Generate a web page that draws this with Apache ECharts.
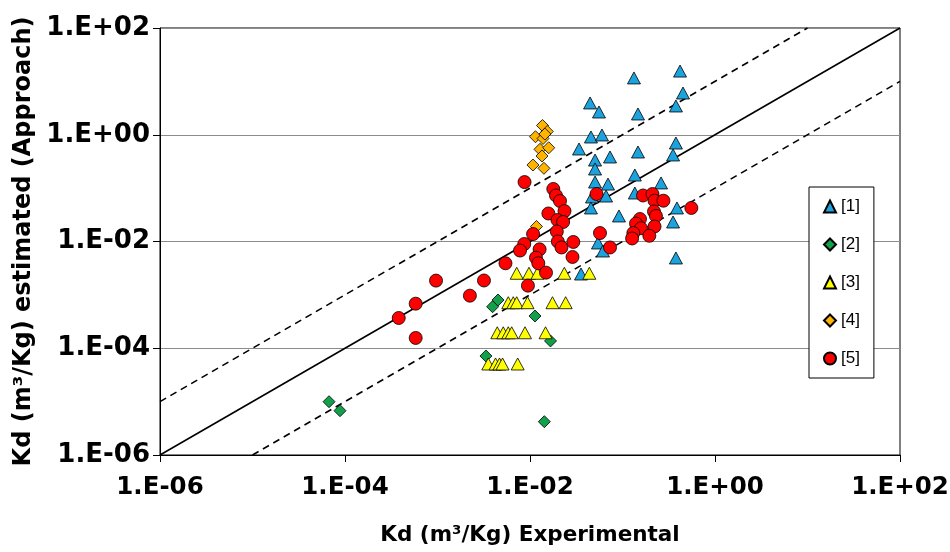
<!DOCTYPE html>
<html><head><meta charset="utf-8">
<script src="https://cdn.jsdelivr.net/npm/echarts@6/dist/echarts.min.js"></script>
<style>html,body{margin:0;padding:0;background:#fff}#c{width:950px;height:552px}</style>
</head><body><div id="c"></div>
<script>
const seriesNames = ['[1]', '[2]', '[3]', '[4]', '[5]'];
const seriesColors = ['#1CA3DE', '#12A04A', '#FFFF00', '#FFB400', '#FF0000'];

// [1] blue triangles
const x1 = [0.133, 0.419, 0.451, 0.378, 0.0446, 0.0557, 0.147, 0.0456, 0.060, 0.0339, 0.378, 0.352, 0.147, 0.0505, 0.0733, 0.0505, 0.136, 0.0505, 0.0697, 0.261, 0.136, 0.0664, 0.0468, 0.0456, 0.0916, 0.388, 0.352, 0.0543, 0.0615, 0.378, 0.0356];
const y1 = [11.6, 15.6, 6.05, 3.46, 3.94, 2.67, 2.45, 0.908, 0.99, 0.541, 0.70, 0.418, 0.475, 0.336, 0.383, 0.228, 0.176, 0.130, 0.119, 0.125, 0.081, 0.0711, 0.0682, 0.0425, 0.0301, 0.0425, 0.0232, 0.00938, 0.00664, 0.00491, 0.00246];
// [2] green diamonds
const x2 = [0.00451, 0.00394, 0.01132, 0.01667, 0.00334, 6.72e-5, 8.83e-5, 0.01429];
const y2 = [0.000802, 0.000600, 0.000402, 0.000137, 7.16e-5, 9.97e-6, 6.76e-6, 4.21e-6];
// [3] yellow triangles
const x3 = [0.00718, 0.00975, 0.01205, 0.0235, 0.0438,
            0.00582, 0.00659, 0.00718, 0.00940, 0.0175, 0.0243,
            0.00443, 0.00514, 0.00582, 0.00634, 0.00883, 0.01473,
            0.00354, 0.00424, 0.00468, 0.00505, 0.00736];
const y3 = [0.00254, 0.00254, 0.00254, 0.00254, 0.00254,
            0.000713, 0.000713, 0.000713, 0.000713, 0.000713, 0.000713,
            0.000195, 0.000195, 0.000195, 0.000195, 0.000195, 0.000195,
            5.07e-5, 5.07e-5, 5.07e-5, 5.07e-5, 5.07e-5];
// [4] orange diamonds
const x4 = [0.01365, 0.01538, 0.01146, 0.01383, 0.01282, 0.01596, 0.01349, 0.01076, 0.01415, 0.01175, 0.0145];
const y4 = [1.49, 1.15, 0.918, 0.851, 0.533, 0.571, 0.400, 0.271, 0.235, 0.0191, 1.03];
// [5] red circles
const x5 = [0.00873, 0.01786, 0.0191, 0.0211, 0.0158, 0.0236, 0.0198, 0.0228, 0.0195, 0.0108, 0.00867, 0.0078, 0.0127, 0.0200, 0.0219, 0.0294, 0.0116, 0.0123, 0.0288, 0.00543, 0.0149, 0.0095, 0.00318, 0.000964, 0.00224, 0.000581, 0.000381, 0.000581, 0.0524, 0.1667, 0.211, 0.222, 0.277, 0.219, 0.230, 0.1545, 0.140, 0.1585, 0.222, 0.131, 0.195, 0.127, 0.555, 0.0571, 0.0733];
const y5 = [0.130, 0.0964, 0.0728, 0.0574, 0.0335, 0.0372, 0.0253, 0.0232, 0.0154, 0.0138, 0.00898, 0.00677, 0.00714, 0.0100, 0.00773, 0.0098, 0.00498, 0.00391, 0.00513, 0.00391, 0.00261, 0.00149, 0.00186, 0.00185, 0.000967, 0.000684, 0.000369, 0.000156, 0.0776, 0.0728, 0.0776, 0.0581, 0.0581, 0.0365, 0.0301, 0.0264, 0.0217, 0.0177, 0.0191, 0.0144, 0.0128, 0.0114, 0.0425, 0.0144, 0.00773];

// reference lines: y = x, y = 10x, y = x/10
const lineEqX = [1e-6, 1e2];  const lineEqY = [1e-6, 1e2];
const lineUpX = [1e-6, 1e1];  const lineUpY = [1e-5, 1e2];
const lineLoX = [1e-5, 1e2];  const lineLoY = [1e-6, 1e1];

const tickExponents = [-6, -4, -2, 0, 2];
const tickLabels = ['1.E-06', '1.E-04', '1.E-02', '1.E+00', '1.E+02'];

const xTitle = 'Kd (m³/Kg) Experimental';
const yTitle = 'Kd (m³/Kg) estimated (Approach)';

function zip(a, b) { return a.map((v, i) => [v, b[i]]); }
function fmt(v) {
  const e = Math.round(Math.log10(v));
  const i = tickExponents.indexOf(e);
  return i >= 0 ? tickLabels[i] : '';
}

const symbols = ['triangle', 'diamond', 'triangle', 'diamond', 'circle'];
const sizes = [[13, 12], [12, 12], [13, 12], [12, 12], 13];
const xs = [x1, x2, x3, x4, x5];
const ys = [y1, y2, y3, y4, y5];

const scatterSeries = seriesNames.map((n, i) => ({
  name: n, type: 'scatter', symbol: symbols[i], symbolSize: sizes[i],
  itemStyle: { color: seriesColors[i], borderColor: '#000', borderWidth: 0.8, opacity: 1 },
  data: zip(xs[i], ys[i]), z: 3
}));

function refLine(x, y, dashed) {
  return { type: 'line', data: zip(x, y), symbol: 'none', silent: true, z: 2,
    lineStyle: { color: '#000', width: 1.6, type: dashed ? [7, 5] : 'solid' } };
}

const labelFont = { fontFamily: 'DejaVu Sans', fontWeight: 'bold', color: '#000' };

const chart = echarts.init(document.getElementById('c'), null, { renderer: 'canvas' });
chart.setOption({
  animation: false,
  backgroundColor: '#fff',
  grid: { left: 160, top: 28, width: 740, height: 427, show: true, borderColor: '#000', borderWidth: 1,
          backgroundColor: 'transparent', containLabel: false, outerBoundsMode: 'none' },
  xAxis: {
    type: 'log', logBase: 10, min: 1e-6, max: 1e2, interval: 2,
    name: xTitle, nameLocation: 'middle', nameGap: 69,
    nameTextStyle: { fontFamily: 'DejaVu Sans', fontWeight: 'bold', fontSize: 21.5, color: '#000' },
    axisLine: { lineStyle: { color: '#000', width: 1 } },
    axisTick: { show: true, inside: false, length: 7, lineStyle: { color: '#000' } },
    minorTick: { show: false },
    splitLine: { show: false },
    axisLabel: Object.assign({ margin: 20, fontSize: 24.5, formatter: fmt }, labelFont)
  },
  yAxis: {
    type: 'log', logBase: 10, min: 1e-6, max: 1e2, interval: 2,
    name: yTitle, nameLocation: 'middle', nameGap: 118, nameRotate: 90,
    nameTextStyle: { fontFamily: 'DejaVu Sans', fontWeight: 'bold', fontSize: 24, color: '#000' },
    axisLine: { lineStyle: { color: '#000', width: 1 } },
    axisTick: { show: true, inside: false, length: 7, lineStyle: { color: '#000' } },
    minorTick: { show: false },
    splitLine: { show: true, lineStyle: { color: '#8c8c8c', width: 1 } },
    axisLabel: Object.assign({ margin: 10, fontSize: 26, formatter: fmt }, labelFont)
  },
  legend: {
    data: seriesNames, orient: 'vertical', left: 809, top: 187,
    padding: [11, 14, 11, 14], itemGap: 21, itemWidth: 12, itemHeight: 12,
    borderColor: '#000', borderWidth: 1, backgroundColor: '#fff',
    textStyle: { fontFamily: 'Liberation Sans', fontSize: 17, color: '#000' }
  },
  series: [refLine(lineEqX, lineEqY, false), refLine(lineUpX, lineUpY, true), refLine(lineLoX, lineLoY, true)].concat(scatterSeries)
});
</script>
</body></html>
